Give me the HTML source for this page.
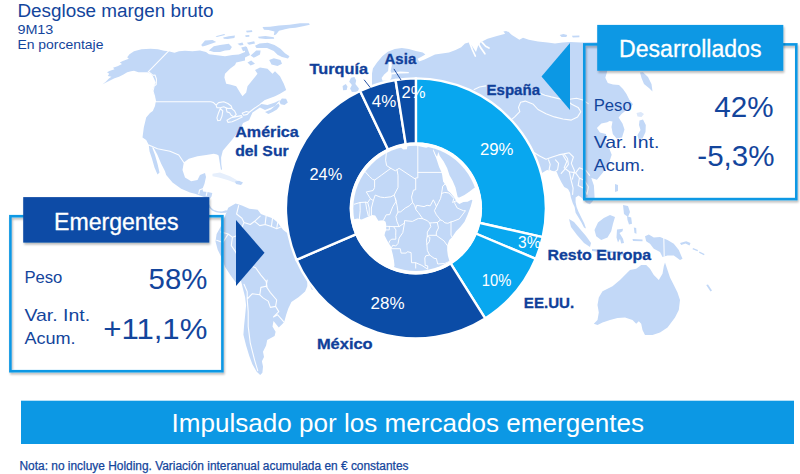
<!DOCTYPE html>
<html><head><meta charset="utf-8"><title>Desglose margen bruto</title>
<style>
html,body{margin:0;padding:0;background:#fff;}
body{width:800px;height:474px;overflow:hidden;font-family:"Liberation Sans",sans-serif;}
svg{display:block;}
text{font-family:"Liberation Sans",sans-serif;}
</style></head><body>
<svg width="800" height="474" viewBox="0 0 800 474">
<defs>
<clipPath id="hole"><circle cx="415.9" cy="208.4" r="62.6"/></clipPath>
<filter id="sh" x="-5%" y="-5%" width="112%" height="115%"><feGaussianBlur in="SourceAlpha" stdDeviation="1.2"/><feOffset dx="1" dy="1.5"/><feComponentTransfer><feFuncA type="linear" slope="0.28"/></feComponentTransfer><feMerge><feMergeNode/><feMergeNode in="SourceGraphic"/></feMerge></filter>
</defs>
<rect width="800" height="474" fill="#fff"/>
<g id="map">
<path d="M102.5,84.2 L105.5,82.0 L109.2,78.2 L111.5,76.8 L107.8,76.0 L109.2,73.8 L107.0,72.2 L110.0,70.8 L114.5,69.2 L113.0,67.8 L117.5,66.2 L122.0,64.0 L119.8,62.5 L122.8,61.0 L128.8,58.8 L127.2,57.2 L129.5,54.2 L134.0,51.2 L141.5,49.3 L150.5,48.7 L158.0,49.3 L164.0,50.8 L168.5,51.2 L174.5,52.8 L179.0,51.2 L185.0,50.8 L192.5,51.2 L200.0,50.5 L206.0,52.0 L209.0,54.2 L215.0,55.0 L225.0,56.2 L232.5,55.0 L238.8,54.4 L245.0,51.9 L245.0,46.9 L246.9,46.9 L248.8,51.9 L250.0,55.0 L245.0,57.5 L245.0,60.6 L236.2,62.5 L235.0,65.0 L230.0,68.8 L225.0,73.8 L224.4,77.5 L226.2,83.8 L230.0,84.5 L236.2,86.2 L240.0,92.5 L242.5,96.2 L246.2,92.5 L247.5,86.2 L252.5,80.0 L257.5,73.8 L255.0,70.0 L260.0,67.5 L267.5,68.8 L272.5,73.8 L275.0,71.2 L280.0,76.2 L283.8,83.8 L286.2,90.0 L280.0,93.8 L275.0,96.2 L265.0,100.0 L260.0,103.8 L267.5,105.0 L275.0,102.5 L280.0,100.0 L275.0,106.0 L265.0,110.0 L260.0,107.5 L252.5,112.5 L249.0,120.3 L243.0,122.9 L241.4,127.1 L236.3,133.9 L232.1,139.8 L227.0,145.7 L222.8,150.7 L221.1,157.5 L221.3,164.3 L222.0,169.3 L221.0,170.0 L219.8,163.0 L218.6,155.5 L217.0,154.5 L213.8,153.8 L206.2,155.0 L197.5,156.2 L188.8,158.8 L183.8,162.5 L182.5,170.0 L185.0,177.5 L191.2,181.2 L197.5,180.0 L200.0,175.0 L205.0,173.0 L206.0,177.0 L204.5,183.8 L202.5,188.8 L203.0,191.5 L207.5,192.0 L212.3,193.0 L211.5,196.5 L209.0,200.0 L209.0,204.0 L211.0,207.5 L214.0,210.0 L218.0,211.3 L222.0,211.5 L226.0,210.3 L228.0,211.0 L226.0,212.8 L221.0,213.0 L216.0,212.3 L212.0,210.5 L208.5,207.0 L206.0,202.0 L204.0,197.0 L195.0,193.8 L190.0,192.5 L181.2,188.8 L172.5,182.5 L166.2,175.0 L165.0,171.2 L161.2,163.8 L157.5,155.0 L153.8,148.0 L150.5,146.5 L148.8,145.0 L146.2,140.0 L142.5,137.5 L143.8,127.5 L146.2,117.5 L150.0,113.0 L152.8,111.0 L155.0,106.0 L155.8,101.5 L155.0,97.8 L153.5,93.2 L152.8,89.5 L154.2,85.8 L155.8,82.8 L154.2,79.0 L152.8,76.0 L150.5,73.8 L147.5,72.2 L143.0,72.2 L138.5,72.2 L134.0,70.8 L131.0,71.2 L127.2,72.2 L123.5,74.5 L119.0,76.8 L114.5,78.2 L108.5,81.2Z" fill="#C2D8F7" />
<path d="M148.8,145.5 L152.0,147.0 L155.0,155.0 L157.5,163.8 L159.5,172.5 L157.5,174.5 L154.5,167.5 L152.0,158.8 L149.5,151.2Z" fill="#C2D8F7" />
<path d="M279.4,101.8 L281.9,98.4 L286.1,98.7 L287.8,102.6 L284.5,105.1 L280.7,104.3Z" fill="#C2D8F7" />
<path d="M212.5,173.8 L220.0,172.5 L230.0,176.2 L238.8,181.2 L242.5,183.0 L237.5,183.8 L227.5,180.0 L218.8,177.5 L212.5,176.2Z" fill="#E6EFFC" />
<path d="M228.2,207.7 L235.6,203.4 L241.9,205.5 L249.3,208.7 L257.7,209.8 L260.9,214.0 L266.1,216.1 L272.5,218.2 L277.7,222.4 L283.0,229.8 L287.2,232.9 L300.0,240.0 L322.0,250.0 L333.0,258.0 L332.0,268.0 L322.0,282.0 L312.0,290.0 L307.3,280.0 L307.3,286.3 L305.1,291.6 L298.8,296.9 L291.4,302.1 L288.3,308.5 L286.2,314.8 L284.1,322.2 L278.8,327.4 L273.5,321.1 L272.5,326.4 L275.6,331.7 L274.6,335.9 L267.2,340.1 L266.1,345.4 L263.0,351.7 L264.0,357.0 L261.9,361.2 L263.0,366.4 L262.4,372.8 L260.2,374.9 L256.7,371.7 L252.4,364.3 L249.3,355.9 L246.1,345.4 L243.4,334.8 L244.0,326.4 L245.1,315.8 L246.1,305.3 L245.1,296.9 L242.9,288.4 L240.8,280.0 L236.6,283.6 L230.3,275.1 L225.0,266.7 L221.9,258.2 L217.7,249.8 L215.5,241.4 L216.6,234.0 L220.8,226.6 L225.0,216.1Z" fill="#C2D8F7" />
<path d="M665.0,262.5 L667.5,270.0 L670.0,277.5 L673.8,285.0 L677.5,292.5 L680.0,300.0 L678.8,310.0 L675.0,317.5 L667.5,327.5 L660.0,332.5 L652.5,335.0 L645.0,335.0 L642.5,330.0 L641.2,323.8 L638.8,321.2 L636.2,323.8 L632.5,320.0 L625.0,317.5 L617.5,318.0 L610.0,320.0 L602.5,322.5 L597.5,325.0 L593.8,323.8 L597.5,320.0 L598.8,312.5 L597.5,305.0 L598.8,297.5 L602.5,291.2 L612.5,286.2 L620.0,280.0 L626.2,273.8 L630.0,270.0 L636.2,268.8 L641.2,265.0 L646.2,265.0 L650.0,268.8 L653.8,275.0 L658.8,280.0 L662.5,273.8 L663.8,266.2Z" fill="#C2D8F7" />
<path d="M645.0,236.2 L648.8,234.5 L653.8,237.5 L660.0,237.0 L667.5,240.0 L673.8,243.8 L678.8,250.0 L682.5,258.8 L680.0,260.0 L673.8,255.5 L667.5,255.5 L662.5,257.0 L660.0,252.0 L653.8,248.8 L650.0,243.8 L646.2,241.2Z" fill="#C2D8F7" />
<path d="M594.5,230.0 L598.0,222.5 L603.8,218.0 L610.0,215.0 L615.0,217.0 L613.0,223.8 L611.2,231.2 L607.5,237.5 L601.2,240.0 L596.2,236.2Z" fill="#C2D8F7" />
<path d="M569.0,219.0 L574.0,222.0 L580.0,229.0 L586.0,236.0 L591.0,243.0 L590.0,247.0 L584.0,243.0 L577.0,235.0 L571.0,227.0Z" fill="#C2D8F7" />
<path d="M617.0,229.5 L623.0,228.8 L622.5,231.2 L619.5,233.0 L623.0,238.8 L624.0,243.0 L621.2,243.5 L620.0,238.8 L618.0,242.5 L616.5,237.5Z" fill="#C2D8F7" />
<path d="M592.0,249.0 L602.0,249.5 L612.0,251.0 L612.0,253.0 L600.0,252.0 L592.0,251.0Z" fill="#C2D8F7" />
<path d="M623.0,205.0 L628.0,206.0 L630.0,212.0 L628.0,217.0 L624.0,214.0Z" fill="#C2D8F7" />
<path d="M615.0,184.0 L618.0,185.0 L618.0,191.0 L615.0,192.0Z" fill="#C2D8F7" />
<path d="M639.5,120.5 L643.0,119.5 L645.8,125.0 L645.5,132.0 L642.5,138.5 L638.5,139.0 L637.5,135.0 L640.5,130.0 L639.0,125.0Z" fill="#C2D8F7" />
<path d="M640.0,72.5 L643.0,72.3 L648.0,77.0 L651.5,84.0 L652.5,91.5 L649.5,88.5 L644.0,84.0 L641.5,78.0Z" fill="#C2D8F7" />
<path d="M351.0,77.7 L354.5,77.1 L356.2,80.6 L355.4,84.1 L358.9,88.5 L358.0,91.7 L351.9,92.0 L350.1,88.5 L351.9,85.0 L349.2,81.8Z" fill="#C2D8F7" />
<path d="M372.0,73.6 L372.9,68.4 L377.2,62.2 L382.5,56.1 L387.8,51.8 L394.8,49.1 L401.8,47.9 L408.8,49.1 L415.8,50.9 L422.8,52.6 L425.4,54.4 L421.0,57.0 L417.5,58.8 L419.2,61.4 L424.5,59.6 L429.8,57.0 L435.0,54.4 L442.0,53.5 L449.0,52.6 L455.6,50.0 L461.2,47.2 L465.0,43.4 L468.8,42.5 L472.0,46.0 L476.0,52.0 L478.0,46.0 L481.0,42.0 L487.5,38.8 L496.9,35.9 L504.4,34.0 L508.0,31.6 L511.9,35.0 L519.4,39.7 L523.0,37.8 L528.8,39.7 L538.0,41.6 L547.5,42.5 L555.0,43.4 L562.5,42.5 L570.0,42.0 L581.0,42.5 L600.0,42.0 L609.0,60.0 L607.0,71.9 L605.3,77.8 L607.8,83.0 L613.0,84.5 L619.0,85.0 L623.0,89.0 L626.5,94.0 L629.5,100.0 L633.0,104.3 L630.5,107.5 L626.5,110.0 L621.5,114.0 L618.6,117.5 L622.5,123.6 L624.5,129.5 L622.0,137.5 L616.5,138.5 L612.8,134.0 L611.5,127.0 L612.5,121.5 L609.5,121.0 L607.3,122.2 L601.4,123.6 L596.9,128.0 L599.9,132.5 L605.8,134.0 L607.3,138.4 L604.3,139.9 L608.8,147.3 L611.7,154.7 L608.8,163.5 L602.9,172.4 L596.9,179.8 L591.3,178.0 L593.9,185.6 L594.6,197.5 L592.7,201.3 L589.9,204.2 L587.0,203.2 L584.2,200.4 L581.3,197.5 L578.5,195.6 L575.6,197.5 L575.6,202.2 L576.6,207.0 L578.5,211.8 L581.3,217.5 L584.2,223.2 L586.0,228.5 L584.0,227.5 L581.3,222.2 L578.5,217.5 L575.6,212.7 L574.6,207.0 L572.8,203.2 L570.9,197.5 L570.0,192.8 L568.0,189.0 L564.2,187.0 L561.4,182.3 L558.5,176.6 L556.6,171.8 L552.8,171.0 L547.0,170.0 L542.4,172.8 L538.0,178.0 L520.0,150.0 L480.0,110.0 L420.0,100.0 L380.0,100.0 L372.0,85.0Z" fill="#C2D8F7" />
<path d="M201.2,45.0 L205.0,40.6 L212.5,40.0 L216.2,41.9 L211.2,43.8 L206.2,45.6 L202.5,46.5Z" fill="#C2D8F7" />
<path d="M208.8,50.6 L213.8,46.2 L220.0,45.0 L228.8,43.8 L231.9,46.9 L230.0,50.0 L225.0,50.6 L220.0,51.9 L213.8,51.9Z" fill="#C2D8F7" />
<path d="M223.1,37.5 L228.8,36.2 L235.0,35.6 L234.4,38.1 L227.5,39.0 L223.8,38.8Z" fill="#C2D8F7" />
<path d="M215.6,36.2 L224.4,34.0 L225.0,35.0 L216.9,36.9Z" fill="#C2D8F7" />
<path d="M237.5,43.8 L242.5,42.5 L243.5,45.0 L240.0,45.6Z" fill="#C2D8F7" />
<path d="M241.2,47.5 L246.2,46.2 L246.9,50.0 L243.1,51.2Z" fill="#C2D8F7" />
<path d="M255.0,45.8 L259.5,43.5 L267.8,42.8 L274.5,45.0 L280.5,48.8 L285.0,53.2 L289.5,56.2 L288.0,58.5 L282.0,57.0 L277.5,54.8 L273.8,51.0 L267.0,48.0 L261.0,48.0 L256.5,48.0Z" fill="#C2D8F7" />
<path d="M258.0,36.8 L265.5,36.0 L273.8,37.2 L274.2,38.7 L265.5,39.0 L258.8,38.2Z" fill="#C2D8F7" />
<path d="M262.5,27.0 L270.0,26.7 L279.0,25.5 L289.5,24.8 L300.0,23.2 L309.0,23.2 L309.8,24.8 L303.0,26.2 L295.5,27.8 L289.5,28.2 L285.0,29.2 L279.0,30.8 L276.0,34.5 L273.8,35.2 L274.5,31.5 L268.5,30.0 L264.0,29.7Z" fill="#C2D8F7" />
<path d="M246.0,30.8 L252.0,30.3 L252.3,31.9 L246.8,32.4Z" fill="#C2D8F7" />
<path d="M269.2,60.0 L273.8,58.2 L280.5,60.0 L282.0,63.8 L277.5,66.0 L271.5,64.5Z" fill="#C2D8F7" />
<path d="M250.6,55.6 L256.2,50.6 L260.6,50.6 L260.0,54.4 L253.8,57.8Z" fill="#C2D8F7" />
<path d="M247.5,62.5 L251.2,60.6 L255.0,63.8 L250.6,65.6Z" fill="#C2D8F7" />
<path d="M559.7,35.0 L563.4,33.9 L567.2,35.0 L566.3,36.9 L561.6,36.9Z" fill="#C2D8F7" />
<path d="M571.9,35.8 L579.4,35.4 L579.4,37.2 L572.8,37.4Z" fill="#C2D8F7" />
<path d="M503.4,31.6 L506.2,30.9 L509.6,33.1 L506.2,35.0Z" fill="#C2D8F7" />
<path d="M633.8,227.5 L636.2,228.0 L636.5,233.8 L634.5,233.0Z" fill="#C2D8F7" />
<path d="M632.5,239.0 L642.5,239.5 L642.5,241.2 L633.0,241.0Z" fill="#C2D8F7" />
<path d="M620.0,254.0 L629.5,252.0 L630.0,253.5 L621.2,255.8Z" fill="#C2D8F7" />
<path d="M605.0,251.0 L620.0,251.5 L620.0,253.0 L605.0,252.5Z" fill="#C2D8F7" />
<path d="M680.0,243.0 L686.2,241.2 L690.5,243.0 L689.5,245.5 L685.5,243.5 L681.2,245.0Z" fill="#C2D8F7" />
<path d="M693.0,248.0 L698.0,250.0 L697.5,251.2 L692.5,249.2Z" fill="#C2D8F7" />
<path d="M699.5,251.5 L704.5,254.0 L704.0,255.2 L699.0,252.8Z" fill="#C2D8F7" />
<path d="M706.2,285.0 L708.0,284.5 L712.0,290.5 L710.5,291.5Z" fill="#C2D8F7" />
<path d="M627.0,216.2 L631.2,217.5 L632.0,223.8 L629.0,224.5 L627.5,220.0Z" fill="#C2D8F7" />
<path d="M342.6,85.9 L345.8,84.1 L347.5,86.8 L346.6,89.9 L343.1,90.2Z" fill="#C2D8F7" />
<path d="M265.0,111.9 L270.9,109.4 L276.0,105.1 L278.6,103.5 L279.7,106.0 L276.9,109.4 L272.6,111.9 L268.4,113.9Z" fill="#C2D8F7" />
<path d="M245.2,35.2 L249.3,35.0 L249.3,36.8 L245.7,36.9Z" fill="#C2D8F7" />
<path d="M246.8,42.8 L254.2,41.2 L255.0,43.5 L249.0,44.7Z" fill="#C2D8F7" />
<path d="M235.0,181.5 L239.0,180.8 L243.0,182.5 L241.0,185.0 L236.0,184.0Z" fill="#C2D8F7" />
<path d="M636.5,113.0 L641.0,112.0 L644.0,114.0 L641.5,117.0 L637.5,116.5Z" fill="#DCE8FA" />
<path d="M389.1,60.1 L391.2,60.1 L391.8,65.8 L390.6,71.0 L388.1,71.0 L388.6,65.8Z" fill="#fff" />
<path d="M388.1,71.0 L390.6,71.0 L391.8,73.6 L391.4,78.0 L389.5,80.8 L382.5,80.8 L381.6,78.0 L384.2,74.5Z" fill="#fff" />
<path d="M391.6,72.8 L400.0,71.5 L408.8,71.9 L408.8,73.3 L400.0,73.5 L391.6,74.5Z" fill="#fff" />
<path d="M238.7,205.5 L236.6,214.0 L241.9,218.2 L244.0,222.4 L250.3,224.5 L254.6,221.3 L260.2,216.1 M254.6,221.3 L259.8,225.6 L265.1,224.5 L271.4,226.6 L276.7,228.7 L282.0,226.6 M266.1,216.1 L265.1,224.5 M272.5,218.2 L271.4,226.6 M277.7,222.4 L276.7,228.7 M220.8,231.9 L228.2,234.0 L232.4,237.2 L231.3,245.6 L235.6,251.9 L238.7,258.2 L239.8,264.6 L244.0,267.7 M232.4,237.2 L238.7,235.1 L244.0,222.4 M216.6,240.3 L222.9,242.4 L228.2,234.0 M238.7,258.2 L247.2,264.6 L255.6,267.7 L260.9,275.1 L266.1,281.4 L267.2,287.8 M244.0,284.2 L247.2,291.6 L247.2,299.0 L248.2,311.6 L248.2,326.4 L250.3,343.2 L254.6,360.1 L257.7,370.7 M247.2,299.0 L252.4,293.7 L259.8,294.8 M259.8,294.8 L260.9,287.4 L266.1,286.3 L270.4,292.6 L276.7,300.0 L275.6,306.4 L270.4,307.4 L268.2,301.1 L263.0,297.9 L259.8,294.8 M273.5,316.9 L277.7,314.8 L284.1,322.2 M275.6,306.4 L278.8,311.6 L273.5,316.9 M266.1,286.3 L267.2,280.0 M168.5,51.2 L148.2,71.8 L151.2,73.8 L152.8,75.2 L155.0,75.0 L156.5,79.2 L156.2,84.5 L154.2,86.0 L153.0,91.2 L154.5,96.2 L155.5,101.8 L211.2,101.8 M148.8,145.0 L157.5,148.8 L170.0,151.2 L178.8,155.0 L183.8,162.5 M202.5,188.8 L199.5,190.0 L198.8,193.8 M207.5,190.0 L206.2,195.5 M474.2,89.5 L479.5,87.0 L485.8,85.9 M539.6,93.1 L544.9,95.2 L551.3,96.9 L558.6,98.6 L566.0,100.0 L571.3,99.0 L576.6,98.2 L582.9,100.0 L588.2,103.6 M520.6,102.2 L525.3,101.1 L533.3,104.3 L538.0,109.5 L546.0,113.8 L554.4,116.9 L562.9,119.0 L571.3,120.1 L577.6,116.9 L580.8,111.7 L578.1,107.4 L571.7,104.3 L566.0,100.0 M520.6,102.2 L518.5,107.4 L519.8,111.7 L514.7,116.9 L511.4,119.7 M534.4,152.8 L539.6,156.0 L546.0,159.2 L552.3,157.0 L558.6,154.9 L563.9,153.9 L567.5,158.5 L568.4,164.4 L565.4,168.6 L561.2,173.3 M548.5,159.8 L550.2,164.4 L549.1,169.7 L553.4,172.9 L557.6,169.7 L558.6,163.4 L555.5,159.8 M563.9,153.9 L569.2,152.8 L573.4,157.0 L571.3,163.4 L574.5,170.8 L572.4,179.2 M563.0,155.2 L566.8,161.5 L564.2,167.8 L569.3,171.7 L570.6,178.0 L573.1,188.1 L572.6,194.4 M569.3,171.7 L575.6,172.9 L579.4,178.0 L578.2,185.6 L583.2,188.1 L587.0,194.4 M575.6,172.9 L579.4,167.8 L585.8,170.4 L589.6,175.4 M579.4,178.0 L584.5,180.5 L588.3,186.8 L587.0,194.4 M663.8,238.0 L664.2,256.2 M211.0,101.8 L213.5,102.6 L216.1,105.1 M216.1,105.1 L218.6,102.6 L223.7,101.8 L227.9,103.5 L231.2,106.0 L232.1,108.5 L227.9,108.5 L223.7,106.8 L220.3,107.7 L216.9,107.7 L216.1,105.1 M220.3,108.5 L222.8,111.0 L222.0,116.1 L220.3,120.3 L217.7,120.7 L216.9,117.8 L218.6,112.7 L220.3,108.5 M226.2,108.5 L231.2,108.2 L234.6,111.0 L236.3,114.4 L233.8,117.0 L231.2,115.3 L229.6,112.7 L227.0,111.9 L226.2,108.5 M227.0,120.3 L231.2,117.8 L236.3,116.6 L241.4,115.6 L242.2,117.0 L237.2,119.5 L232.1,121.7 L227.9,122.4 L227.0,120.3 M242.2,113.2 L246.4,111.5 L249.3,112.2 L247.3,114.4 L243.6,115.3 L242.2,113.2 M249.3,112.2 L254.1,108.5 L259.1,105.1 L265.0,100.9" fill="none" stroke="#fff" stroke-width="1.1" stroke-linejoin="round" stroke-linecap="round" opacity="0.95"/>
<path d="M469.9,43.2 L472.5,50.0 L475.3,56.0 M478.1,42.9 L480.9,48.1 L484.9,53.8 M473.8,42.9 L476.2,48.1 M481.9,42.1 L485.6,46.2 L489.0,48.1" fill="none" stroke="#fff" stroke-width="1.7" stroke-linejoin="round" stroke-linecap="round"/>
</g>
<g id="donut">
<path d="M415.90,78.40 A130.0,130.0 0 0 1 542.67,237.20 L479.09,222.76 A64.8,64.8 0 0 0 415.90,143.60 Z" fill="#08A7EF" stroke="#fff" stroke-width="2.4" stroke-linejoin="miter"/>
<path d="M542.67,237.20 A130.0,130.0 0 0 1 535.74,258.78 L475.64,233.51 A64.8,64.8 0 0 0 479.09,222.76 Z" fill="#08A7EF" stroke="#fff" stroke-width="2.4" stroke-linejoin="miter"/>
<path d="M535.74,258.78 A130.0,130.0 0 0 1 485.17,318.41 L450.43,263.23 A64.8,64.8 0 0 0 475.64,233.51 Z" fill="#08A7EF" stroke="#fff" stroke-width="2.4" stroke-linejoin="miter"/>
<path d="M485.17,318.41 A130.0,130.0 0 0 1 296.50,259.82 L356.38,234.03 A64.8,64.8 0 0 0 450.43,263.23 Z" fill="#0B4CA6" stroke="#fff" stroke-width="2.4" stroke-linejoin="miter"/>
<path d="M296.50,259.82 A130.0,130.0 0 0 1 360.14,90.97 L388.11,149.86 A64.8,64.8 0 0 0 356.38,234.03 Z" fill="#0B4CA6" stroke="#fff" stroke-width="2.4" stroke-linejoin="miter"/>
<path d="M360.14,90.97 A130.0,130.0 0 0 1 395.56,80.00 L405.76,144.40 A64.8,64.8 0 0 0 388.11,149.86 Z" fill="#0B4CA6" stroke="#fff" stroke-width="2.4" stroke-linejoin="miter"/>
<path d="M395.56,80.00 A130.0,130.0 0 0 1 415.90,78.40 L415.90,143.60 A64.8,64.8 0 0 0 405.76,144.40 Z" fill="#0B4CA6" stroke="#fff" stroke-width="2.4" stroke-linejoin="miter"/>
<circle cx="415.9" cy="208.4" r="66.2" fill="#fff"/>
<g clip-path="url(#hole)">
<path d="M324.3,123.2 L324.3,220.6 L349.2,220.6 L357.5,218.4 L361.7,219.5 L367.9,216.7 L372.1,215.1 L375.2,215.4 L377.3,218.9 L378.3,220.8 L380.4,220.6 L383.5,220.3 L385.6,221.7 L386.2,224.4 L386.2,229.9 L385.1,232.6 L384.5,235.3 L386.6,239.4 L388.7,243.3 L390.8,246.3 L391.4,249.0 L392.8,254.5 L393.9,259.9 L394.5,265.4 L391.8,273.6 L390.3,279.1 L390.8,284.6 L438.5,286.7 L442.7,280.4 L448.9,275.0 L450.1,270.9 L449.9,262.7 L447.9,255.8 L447.2,250.4 L447.2,245.4 L449.3,240.0 L452.0,237.2 L456.1,231.2 L460.3,227.1 L464.5,221.7 L467.6,214.8 L470.7,206.6 L472.4,200.3 L471.3,199.8 L467.6,201.7 L463.4,202.0 L459.3,203.9 L456.1,201.4 L455.1,198.7 L453.5,196.5 L450.3,192.7 L447.6,190.5 L446.2,186.1 L443.1,181.5 L442.2,175.2 L441.6,172.4 L439.1,167.0 L436.9,160.2 L435.4,156.1 L433.5,150.6 L432.9,147.0 L430.2,146.5 L426.1,147.8 L417.8,145.9 L411.5,142.7 L407.4,145.1 L406.9,149.2 L403.2,149.5 L398.0,145.1 L392.8,142.7 L388.7,141.0 L386.6,139.6 L387.6,132.8 L384.5,131.4 L372.1,131.7 L361.7,136.4 L353.4,134.7 L353.4,123.2Z" fill="#C2D8F7" />
<path d="M433.5,150.6 L435.4,154.7 L437.1,156.6 L438.3,151.9 L439.8,156.1 L443.7,161.5 L447.2,168.3 L449.5,175.2 L452.6,180.7 L455.5,187.5 L457.2,194.9 L457.8,197.3 L459.3,197.6 L464.5,195.1 L469.6,191.6 L473.8,188.3 L482.1,183.4 L486.3,123.2 L432.9,123.2 L432.9,147.0Z" fill="#C2D8F7" />
<path d="M417.8,146.2 L417.8,172.4 L442.4,172.4 M417.8,172.4 L417.8,177.9 L415.7,177.9 L415.7,179.3 L399.1,168.3 L397.0,169.7 L395.3,170.8 L390.8,168.3 L386.6,165.6 L385.6,160.2 L386.6,150.6 L384.5,145.1 L382.5,141.0 L383.5,132.0 M415.7,179.3 L415.7,189.7 L413.4,190.2 L411.5,197.1 L412.6,202.5 L414.6,205.3 L415.7,208.8 L416.1,209.9 L418.4,212.6 L422.7,218.7 M397.0,169.7 L398.0,175.2 L398.0,187.5 L394.1,195.1 L395.3,198.4 L396.2,201.2 L392.8,206.6 L389.7,214.6 L386.2,214.8 L383.7,219.8 M390.8,168.3 L381.4,175.2 L374.6,180.1 L372.5,179.3 L369.6,176.6 L359.6,165.6 M394.1,195.1 L390.8,196.8 L384.5,197.6 L380.4,197.1 L375.2,195.1 L373.3,200.6 L371.4,208.0 L371.4,215.1 M374.6,180.1 L374.6,187.5 L373.1,190.5 L367.9,191.6 L366.3,191.9 L370.4,198.7 L373.3,200.6 M367.7,202.5 L369.2,208.0 L369.2,215.7 M365.6,202.2 L366.7,209.4 L368.3,215.9 M360.0,202.5 L360.2,210.7 L359.4,218.7 M354.4,204.2 L360.0,202.5 L365.6,202.2 L367.7,202.5 L370.4,198.7 M395.3,198.4 L397.0,205.3 L398.0,212.1 L395.9,216.5 L397.0,221.7 L399.1,226.6 L404.5,223.0 L404.5,220.6 L412.4,221.4 L418.4,218.4 L422.7,218.7 L427.1,220.6 L429.8,223.0 L432.3,222.8 L437.3,222.5 L440.4,220.0 M398.0,212.1 L400.7,211.8 L405.3,208.0 L409.4,205.8 L412.6,202.5 M386.2,226.3 L393.5,226.6 L399.1,226.6 M386.2,229.9 L389.3,229.9 L389.3,226.3 M393.5,226.6 L395.9,229.9 L395.7,235.3 L395.9,239.2 L391.8,239.2 L389.7,240.8 L388.9,243.3 M404.5,223.0 L402.8,232.6 L399.1,238.1 L398.0,243.5 L395.7,246.0 L392.8,245.2 L391.2,248.2 M391.2,248.7 L400.3,248.7 L401.1,253.1 L406.3,253.1 L407.4,251.7 L411.1,252.6 L411.5,262.7 L415.7,262.7 L415.7,268.1 M415.7,208.8 L416.7,205.3 L424.0,206.6 L427.1,205.3 L430.2,205.8 L433.3,199.8 L435.4,203.9 L436.4,206.6 M446.0,183.4 L442.7,186.1 L441.6,193.5 L440.6,198.4 L438.5,202.5 L436.4,206.6 L434.4,210.7 L436.4,214.8 L439.1,218.1 L440.4,220.0 L442.4,220.6 L444.9,222.8 L447.9,223.3 L451.0,221.9 L453.0,221.4 L459.3,218.9 L465.5,210.7 L463.4,210.7 L457.2,208.0 L454.7,203.3 L455.1,201.2 M441.6,193.5 L444.7,192.4 L448.9,193.0 L453.9,198.4 L452.6,202.5 L455.1,201.2 M451.0,221.9 L451.0,235.1 L452.2,237.2 M437.3,222.5 L438.5,227.9 L436.4,232.1 L436.2,235.3 L443.9,240.8 L447.2,245.4 M429.8,223.0 L430.8,226.6 L427.3,232.1 L427.3,236.4 L429.2,235.3 L436.2,235.3 M427.3,236.4 L429.8,237.2 L429.8,239.2 L429.2,241.9 L426.9,244.6 L426.5,240.0 L427.3,236.4 M426.9,244.6 L427.3,250.4 L429.6,255.0 L434.1,258.3 L436.4,258.6 L437.7,264.0 L444.7,263.5 L449.7,261.3 M429.6,255.0 L425.8,255.8 L424.8,258.0 L425.2,265.4 L427.7,265.9 L427.7,269.2 L421.9,265.4 L415.7,262.7 M433.5,150.6 L435.8,156.1" fill="none" stroke="#fff" stroke-width="1.0" stroke-linejoin="round" stroke-linecap="round" opacity="0.95"/>
</g></g>
<text x="480" y="154.5" font-size="17" fill="#fff" font-weight="normal" text-anchor="start" textLength="33.5" lengthAdjust="spacingAndGlyphs" >29%</text>
<text x="518" y="248.2" font-size="17" fill="#fff" font-weight="normal" text-anchor="start" textLength="22.5" lengthAdjust="spacingAndGlyphs" >3%</text>
<text x="481.75" y="285.5" font-size="17" fill="#fff" font-weight="normal" text-anchor="start" textLength="29.5" lengthAdjust="spacingAndGlyphs" >10%</text>
<text x="370.5" y="308.75" font-size="17" fill="#fff" font-weight="normal" text-anchor="start" textLength="34" lengthAdjust="spacingAndGlyphs" >28%</text>
<text x="309.5" y="179.8" font-size="17" fill="#fff" font-weight="normal" text-anchor="start" textLength="32.7" lengthAdjust="spacingAndGlyphs" >24%</text>
<text x="371.8" y="106.5" font-size="17" fill="#fff" font-weight="normal" text-anchor="start" textLength="24.4" lengthAdjust="spacingAndGlyphs" >4%</text>
<text x="401.5" y="97.8" font-size="17" fill="#fff" font-weight="normal" text-anchor="start" textLength="24" lengthAdjust="spacingAndGlyphs" >2%</text>
<text x="309.5" y="73.75" font-size="15.5" fill="#10409A" font-weight="bold" text-anchor="start" textLength="58.5" lengthAdjust="spacingAndGlyphs" stroke="#10409A" stroke-width="0.3">Turquía</text>
<text x="384.5" y="63.75" font-size="15.5" fill="#10409A" font-weight="bold" text-anchor="start" textLength="31.75" lengthAdjust="spacingAndGlyphs" stroke="#10409A" stroke-width="0.3">Asia</text>
<text x="486.5" y="95.2" font-size="15.5" fill="#10409A" font-weight="bold" text-anchor="start" textLength="53.5" lengthAdjust="spacingAndGlyphs" stroke="#10409A" stroke-width="0.3">España</text>
<text x="235.2" y="136.75" font-size="15.5" fill="#10409A" font-weight="bold" text-anchor="start" textLength="63.6" lengthAdjust="spacingAndGlyphs" stroke="#10409A" stroke-width="0.3">América</text>
<text x="235.2" y="156.25" font-size="15.5" fill="#10409A" font-weight="bold" text-anchor="start" textLength="53.5" lengthAdjust="spacingAndGlyphs" stroke="#10409A" stroke-width="0.3">del Sur</text>
<text x="316.9" y="348.5" font-size="15.5" fill="#10409A" font-weight="bold" text-anchor="start" textLength="55.8" lengthAdjust="spacingAndGlyphs" stroke="#10409A" stroke-width="0.3">México</text>
<text x="523.8" y="308.1" font-size="15.5" fill="#10409A" font-weight="bold" text-anchor="start" textLength="50.4" lengthAdjust="spacingAndGlyphs" stroke="#10409A" stroke-width="0.3">EE.UU.</text>
<text x="547.5" y="259.8" font-size="15.5" fill="#10409A" font-weight="bold" text-anchor="start" textLength="103.5" lengthAdjust="spacingAndGlyphs" stroke="#10409A" stroke-width="0.3">Resto Europa</text>
<path d="M364.1,79.75 L370.25,87.6 M393.9,68.9 L401,80" stroke="#10409A" stroke-width="0.9" fill="none"/>
<text x="17.4" y="17.4" font-size="18" fill="#13459C" font-weight="normal" text-anchor="start" textLength="196.2" lengthAdjust="spacingAndGlyphs" >Desglose margen bruto</text>
<text x="17.4" y="33.6" font-size="12" fill="#13459C" font-weight="normal" text-anchor="start" textLength="36" lengthAdjust="spacingAndGlyphs" >9M13</text>
<text x="17.4" y="48.9" font-size="13" fill="#13459C" font-weight="normal" text-anchor="start" textLength="86" lengthAdjust="spacingAndGlyphs" >En porcentaje</text>
<rect x="655" y="72" width="140" height="125" fill="#fff"/>
<rect x="584.3" y="44.4" width="212.0" height="154.70000000000002" fill="none" stroke="#0C98E4" stroke-width="2.6" filter="url(#sh)"/>
<rect x="597.2" y="24.9" width="186.1" height="45.9" fill="#0C98E4" filter="url(#sh)"/>
<text x="690.25" y="57.4" font-size="23" fill="#fff" font-weight="normal" text-anchor="middle" textLength="142.5" lengthAdjust="spacingAndGlyphs" stroke="#fff" stroke-width="0.3">Desarrollados</text>
<path d="M570,43 L570,110 L541.5,76.5 Z" fill="#0C98E4"/>
<text x="593.7" y="110.9" font-size="17" fill="#13459C" font-weight="normal" text-anchor="start" textLength="38" lengthAdjust="spacingAndGlyphs" >Peso</text>
<text x="593.7" y="148.4" font-size="17" fill="#13459C" font-weight="normal" text-anchor="start" textLength="65.6" lengthAdjust="spacingAndGlyphs" >Var. Int.</text>
<text x="593.7" y="170.7" font-size="17" fill="#13459C" font-weight="normal" text-anchor="start" textLength="51.2" lengthAdjust="spacingAndGlyphs" >Acum.</text>
<text x="773.5" y="116.65" font-size="30" fill="#13459C" font-weight="normal" text-anchor="end" textLength="59.3" lengthAdjust="spacingAndGlyphs" >42%</text>
<text x="774.5" y="166" font-size="30" fill="#13459C" font-weight="normal" text-anchor="end" textLength="77.2" lengthAdjust="spacingAndGlyphs" >-5,3%</text>
<rect x="10.4" y="216.20000000000002" width="212.0" height="155.0" fill="none" stroke="#0C98E4" stroke-width="2.6" filter="url(#sh)"/>
<rect x="23.2" y="197.1" width="186.1" height="45.5" fill="#0B4CA6" filter="url(#sh)"/>
<text x="116.25" y="229.6" font-size="23" fill="#fff" font-weight="normal" text-anchor="middle" textLength="124.5" lengthAdjust="spacingAndGlyphs" stroke="#fff" stroke-width="0.3">Emergentes</text>
<path d="M236,220 L236,286 L264.5,252.8 Z" fill="#0B4CA6"/>
<text x="24.4" y="283.35" font-size="17" fill="#13459C" font-weight="normal" text-anchor="start" textLength="38" lengthAdjust="spacingAndGlyphs" >Peso</text>
<text x="24.4" y="321.15" font-size="17" fill="#13459C" font-weight="normal" text-anchor="start" textLength="65.7" lengthAdjust="spacingAndGlyphs" >Var. Int.</text>
<text x="24.4" y="343.5" font-size="17" fill="#13459C" font-weight="normal" text-anchor="start" textLength="51.2" lengthAdjust="spacingAndGlyphs" >Acum.</text>
<text x="207.4" y="289.1" font-size="30" fill="#13459C" font-weight="normal" text-anchor="end" textLength="58.8" lengthAdjust="spacingAndGlyphs" >58%</text>
<text x="207.4" y="338.5" font-size="30" fill="#13459C" font-weight="normal" text-anchor="end" textLength="104.2" lengthAdjust="spacingAndGlyphs" >+11,1%</text>
<rect x="21" y="400.7" width="773" height="43.3" fill="#0C98E4"/>
<text x="171.5" y="432" font-size="26" fill="#fff" font-weight="normal" text-anchor="start" textLength="472.5" lengthAdjust="spacingAndGlyphs" >Impulsado por los mercados emergentes</text>
<text x="19.5" y="470" font-size="12" fill="#13459C" font-weight="normal" text-anchor="start" textLength="389" lengthAdjust="spacingAndGlyphs" stroke="#13459C" stroke-width="0.25">Nota: no incluye Holding. Variación interanual acumulada en € constantes</text>
</svg></body></html>
